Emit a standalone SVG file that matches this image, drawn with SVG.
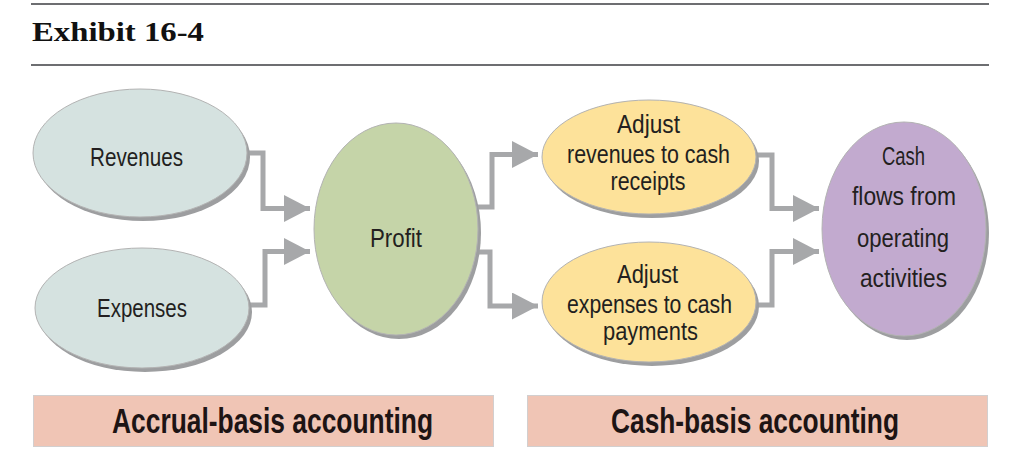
<svg xmlns="http://www.w3.org/2000/svg" width="1014" height="465" viewBox="0 0 1014 465">
<style>
.rule{stroke:#6d6e71;stroke-width:2}
.title{font-family:"Liberation Serif",serif;font-weight:bold;font-size:28px;fill:#111}
.sh{fill:#9d9ea0}
.el{stroke:#b3b3b3;stroke-width:1}
.lbl{font-family:"Liberation Sans",Arial,sans-serif;font-size:25px;fill:#231f20;text-anchor:middle}
.conn{fill:none;stroke:#a7a8aa;stroke-width:5;marker-end:url(#ah)}
.box{fill:#f0c5b5;stroke:#d2cfcf;stroke-width:1}
.blbl{font-family:"Liberation Sans",Arial,sans-serif;font-weight:bold;font-size:35px;fill:#1d1414;text-anchor:middle}
</style>
<defs>
<marker id="ah" markerUnits="userSpaceOnUse" viewBox="0 0 26 27" refX="26" refY="13.5" markerWidth="26" markerHeight="27" orient="auto">
<path d="M0,0 L26,13.5 L0,27 z" fill="#a7a8aa"/>
</marker>
</defs>
<g id="header">
<line class="rule" x1="31" y1="4" x2="989" y2="4"/>
<text class="title" x="32" y="41" textLength="172" lengthAdjust="spacingAndGlyphs">Exhibit 16-4</text>
<line class="rule" x1="31" y1="65" x2="989" y2="65"/>
</g>
<g id="connectors">
<path class="conn" d="M246,153 H263 V208.5 H310"/>
<path class="conn" d="M248,305 H265 V251.5 H310"/>
<path class="conn" d="M476,207 H492 V154.5 H538"/>
<path class="conn" d="M476,252 H490 V306 H538"/>
<path class="conn" d="M755,155 H772 V208.5 H819"/>
<path class="conn" d="M756,305 H772 V251.5 H819"/>
</g>
<g id="revenues">
<ellipse class="sh" cx="143" cy="157" rx="107" ry="64"/>
<ellipse class="el" cx="140" cy="153" rx="107" ry="64" fill="#d5e2e0"/>
<text class="lbl" x="136.5" y="166" textLength="93" lengthAdjust="spacingAndGlyphs">Revenues</text>
</g>
<g id="expenses">
<ellipse class="sh" cx="145" cy="312" rx="107" ry="60"/>
<ellipse class="el" cx="142" cy="308" rx="107" ry="60" fill="#d5e2e0"/>
<text class="lbl" x="142" y="317" textLength="90" lengthAdjust="spacingAndGlyphs">Expenses</text>
</g>
<g id="profit">
<ellipse class="sh" cx="399" cy="233" rx="82" ry="106"/>
<ellipse class="el" cx="396" cy="229" rx="82" ry="106" fill="#c5d4a8"/>
<text class="lbl" x="396" y="247" textLength="52" lengthAdjust="spacingAndGlyphs">Profit</text>
</g>
<g id="adjust-revenues">
<ellipse class="sh" cx="652" cy="161" rx="107" ry="57"/>
<ellipse class="el" cx="649" cy="157" rx="107" ry="57" fill="#fde29a"/>
<text class="lbl" x="648.5" y="133" textLength="63" lengthAdjust="spacingAndGlyphs">Adjust</text>
<text class="lbl" x="648.5" y="163" textLength="163" lengthAdjust="spacingAndGlyphs">revenues to cash</text>
<text class="lbl" x="648" y="190" textLength="75" lengthAdjust="spacingAndGlyphs">receipts</text>
</g>
<g id="adjust-expenses">
<ellipse class="sh" cx="652" cy="306" rx="107" ry="60"/>
<ellipse class="el" cx="649" cy="302" rx="107" ry="60" fill="#fde29a"/>
<text class="lbl" x="647.5" y="283" textLength="61" lengthAdjust="spacingAndGlyphs">Adjust</text>
<text class="lbl" x="649.5" y="313" textLength="165" lengthAdjust="spacingAndGlyphs">expenses to cash</text>
<text class="lbl" x="650.5" y="340" textLength="95" lengthAdjust="spacingAndGlyphs">payments</text>
</g>
<g id="cash-flows">
<ellipse class="sh" cx="907" cy="233" rx="82" ry="107"/>
<ellipse class="el" cx="904" cy="229" rx="82" ry="107" fill="#c2aacf"/>
<text class="lbl" x="903.5" y="165" textLength="43" lengthAdjust="spacingAndGlyphs">Cash</text>
<text class="lbl" x="904" y="205" textLength="104" lengthAdjust="spacingAndGlyphs">flows from</text>
<text class="lbl" x="903" y="247" textLength="92" lengthAdjust="spacingAndGlyphs">operating</text>
<text class="lbl" x="903.5" y="287" textLength="87" lengthAdjust="spacingAndGlyphs">activities</text>
</g>
<g id="accrual-basis">
<rect class="box" x="33.5" y="395.5" width="460" height="51"/>
<text class="blbl" x="272.5" y="433" textLength="321" lengthAdjust="spacingAndGlyphs">Accrual-basis accounting</text>
</g>
<g id="cash-basis">
<rect class="box" x="527.5" y="395.5" width="460" height="51"/>
<text class="blbl" x="755" y="433" textLength="288" lengthAdjust="spacingAndGlyphs">Cash-basis accounting</text>
</g>
</svg>
